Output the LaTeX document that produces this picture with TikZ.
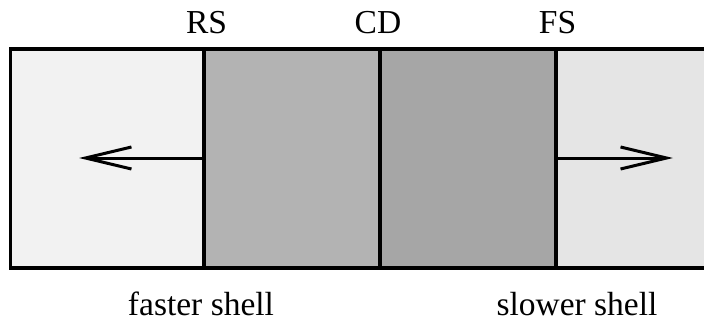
\documentclass[tikz,border=0pt]{standalone}
\usepackage{fontspec}
\setmainfont{Liberation Serif}
\usetikzlibrary{arrows.meta}
\definecolor{fastgray}{HTML}{F2F2F2}
\definecolor{rsgray}{HTML}{B3B3B3}
\definecolor{fsgray}{HTML}{A6A6A6}
\definecolor{slowgray}{HTML}{E5E5E5}
\begin{document}
\begin{tikzpicture}[x=1pt,y=-1pt,
  region/.style={draw=black, line width=3.5pt, rectangle, inner sep=0pt, outer sep=0pt,
    minimum height=219pt, anchor=north west},
  label/.style={font=\fontsize{33.5}{40}\selectfont, inner sep=0pt, anchor=base},
  flow/.style={line width=3pt, -{Straight Barb[length=46pt,width=22pt,line width=3pt]}}]
  \useasboundingbox (0,0) rectangle (704,322);
  \clip (0,0) rectangle (704,322);
  % shell regions, from the fast outer shell to the slow one
  \node[region, fill=fastgray, minimum width=193.5pt] (fast) at (10.5,49) {};
  \node[region, fill=rsgray,   minimum width=176pt]   (rsreg) at (204,49) {};
  \node[region, fill=fsgray,   minimum width=176pt]   (fsreg) at (380,49) {};
  \node[region, fill=slowgray, minimum width=160pt]   (slow) at (556,49) {};
  % shock and discontinuity labels
  \node[label] (rs) at (206.5,33) {RS};
  \node[label] (cd) at (378,33) {CD};
  \node[label] (fs) at (557.5,33) {FS};
  % shell labels
  \node[label] (fastlbl) at (201,315) {faster shell};
  \node[label] (slowlbl) at (577,315) {slower shell};
  % flow directions
  \coordinate (lefttip) at (79,158);
  \coordinate (righttip) at (673,158);
  \draw[flow] (rsreg.west |- lefttip) -- (lefttip);
  \draw[flow] (slow.west |- righttip) -- (righttip);
\end{tikzpicture}
\end{document}
